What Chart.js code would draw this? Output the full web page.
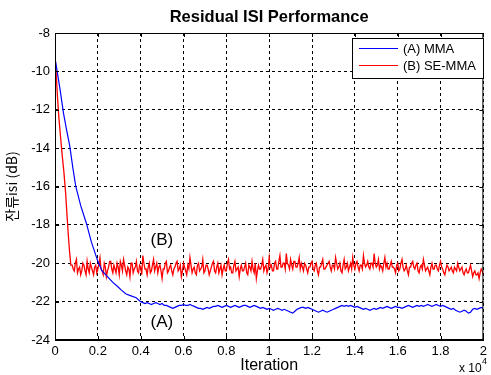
<!DOCTYPE html>
<html>
<head>
<meta charset="utf-8">
<script src="https://cdn.jsdelivr.net/npm/chart.js@4"></script>
<style>
  html, body { margin: 0; padding: 0; background: #fff; }
  #wrap { width: 491px; height: 375px; }
</style>
</head>
<body>
<div id="wrap"><canvas id="my-chart" width="491" height="375"></canvas></div>
<script>
// data

// (A) MMA - transient part, then uniform samples every 100 iterations
const mmaIterHead = [0, 100, 230, 400, 550, 690, 830, 970, 1200, 1460, 1700, 2000, 2200, 2450, 2700, 2910, 3100, 3320, 3550, 3790, 4000];
const mmaValHead = [-9.3, -10.0, -10.9, -12.2, -13.1, -13.9, -15.0, -16.0, -17.0, -17.9, -18.9, -19.9, -20.4, -20.7, -21.0, -21.2, -21.4, -21.6, -21.7, -21.8, -22.0];
const mmaTailStart = 4200;
const mmaTailStep = 100;
const mmaValTail = [
  -22.1, -22.05, -22.1, -22.15, -22.1, -22.05, -22.1, -22.15, -22.1, -22.2,
  -22.2, -22.25, -22.3, -22.35, -22.3, -22.25, -22.2, -22.2, -22.15, -22.2,
  -22.2, -22.15, -22.2, -22.25, -22.3, -22.35, -22.35, -22.4, -22.35, -22.3,
  -22.35, -22.3, -22.25, -22.25, -22.2, -22.25, -22.3, -22.25, -22.2, -22.25,
  -22.3, -22.25, -22.2, -22.25, -22.3, -22.25, -22.2, -22.2, -22.25, -22.3,
  -22.25, -22.2, -22.25, -22.3, -22.35, -22.3, -22.35, -22.4, -22.35, -22.4,
  -22.45, -22.4, -22.35, -22.4, -22.45, -22.4, -22.45, -22.5, -22.55, -22.6,
  -22.5, -22.4, -22.35, -22.3, -22.3, -22.35, -22.3, -22.35, -22.4, -22.45,
  -22.5, -22.55, -22.5, -22.45, -22.5, -22.55, -22.5, -22.45, -22.4, -22.35,
  -22.3, -22.25, -22.2, -22.25, -22.2, -22.25, -22.2, -22.25, -22.3, -22.25,
  -22.3, -22.35, -22.4, -22.35, -22.4, -22.45, -22.4, -22.35, -22.4, -22.35,
  -22.3, -22.35, -22.3, -22.25, -22.3, -22.35, -22.3, -22.25, -22.3, -22.3,
  -22.35, -22.3, -22.25, -22.2, -22.25, -22.3, -22.25, -22.2, -22.25, -22.2,
  -22.25, -22.2, -22.15, -22.2, -22.25, -22.2, -22.15, -22.2, -22.25, -22.2,
  -22.25, -22.3, -22.35, -22.4, -22.35, -22.45, -22.5, -22.55, -22.5, -22.45,
  -22.5, -22.6, -22.55, -22.4, -22.35, -22.4, -22.35, -22.3, -22.35
];

// (B) SE-MMA - transient, then samples at 800, 900, ... plus in-between samples at 850, 950, ...
const seIterHead = [0, 60, 120, 180, 250, 330, 420, 500, 560, 620, 680, 740];
const seValHead = [-9.2, -10.2, -11.4, -12.4, -13.3, -14.3, -15.3, -16.4, -17.5, -18.5, -19.4, -20.1];
const seTailStart = 800;
const seTailStep = 100;
const seValTail = [
  -20.1, -20.4, -19.8, -20.3, -20.6, -20.0, -20.4, -19.9, -20.5, -20.2,
  -20.6, -20.1, -20.3, -19.7, -20.4, -20.0, -20.7, -20.2, -19.9, -20.5,
  -20.3, -20.0, -20.6, -20.1, -19.8, -20.4, -20.2, -20.7, -20.0, -20.3,
  -19.9, -20.5, -20.2, -19.6, -20.3, -20.6, -20.0, -20.4, -19.8, -20.2,
  -20.5, -20.1, -20.8, -20.3, -19.9, -20.4, -20.1, -20.6, -20.2, -19.9,
  -20.3, -20.7, -20.0, -20.4, -20.1, -19.7, -20.5, -20.2, -20.6, -20.0,
  -20.3, -19.8, -20.4, -20.1, -20.6, -20.2, -19.9, -20.5, -20.0, -20.3,
  -20.6, -20.1, -20.4, -19.8, -20.2, -20.5, -19.9, -20.3, -20.7, -20.1,
  -20.4, -20.0, -20.6, -20.2, -19.9, -20.5, -20.8, -20.1, -20.3, -19.8,
  -20.2, -20.5, -19.7, -20.1, -20.4, -19.9, -20.3, -19.6, -20.2, -20.0,
  -19.5, -20.1, -19.8, -20.3, -19.9, -20.2, -19.7, -20.0, -20.4, -20.1,
  -20.5, -20.2, -19.9, -20.4, -20.0, -20.6, -20.2, -19.8, -20.3, -20.1,
  -19.9, -20.4, -20.1, -19.7, -20.3, -20.0, -20.5, -19.8, -20.2, -20.4,
  -20.0, -19.7, -20.3, -19.9, -20.4, -20.1, -19.6, -20.2, -19.9, -20.3,
  -20.0, -19.5, -20.2, -19.8, -20.1, -20.4, -19.7, -20.0, -20.3, -19.9,
  -20.2, -20.5, -20.0, -20.3, -19.8, -20.4, -20.1, -20.6, -20.2, -19.9,
  -20.3, -20.0, -20.5, -20.1, -19.8, -20.4, -20.2, -20.6, -20.0, -20.3,
  -20.1, -20.4, -19.9, -20.3, -20.6, -20.1, -20.4, -20.2, -20.5, -20.3,
  -20.0, -20.4, -20.2, -20.6, -20.3, -20.5, -20.1, -20.7, -20.4, -20.6,
  -20.8, -20.3, -20.6
];
const seValMid = [
  -20.3, -20.0, -20.5, -20.2, -20.4, -20.1, -20.6, -20.3, -20.0, -20.4,
  -20.2, -20.5, -20.0, -20.3, -20.6, -20.2, -20.4, -19.9, -20.3, -20.1,
  -20.5, -20.2, -19.9, -20.4, -20.1, -20.6, -20.3, -20.0, -20.5, -20.2,
  -20.4, -20.1, -20.6, -20.0, -20.3, -20.2, -20.5, -20.1, -20.4, -20.0,
  -20.2, -20.4, -20.3, -20.0, -20.5, -20.2, -20.4, -20.3, -20.0, -20.4,
  -20.1, -20.4, -20.2, -20.6, -20.3, -20.1, -20.3, -20.5, -20.1, -20.4,
  -20.2, -20.5, -20.1, -20.3, -20.4, -20.0, -20.4, -20.2, -20.5, -20.1,
  -20.3, -20.4, -20.0, -20.3, -20.5, -20.1, -20.4, -20.2, -20.3, -20.4,
  -20.2, -20.5, -20.1, -20.4, -20.3, -20.0, -20.4, -20.3, -20.1, -20.4,
  -20.1, -20.3, -20.2, -20.4, -20.0, -20.3, -19.9, -20.2, -20.0, -20.3,
  -20.0, -20.3, -20.1, -19.9, -20.2, -20.0, -20.3, -20.2, -20.0, -20.3,
  -20.2, -20.0, -20.3, -20.1, -20.4, -20.2, -20.0, -20.3, -20.2, -20.0,
  -20.2, -20.1, -20.3, -20.0, -20.2, -20.4, -20.1, -20.3, -20.0, -20.2,
  -20.3, -20.1, -20.0, -20.2, -20.1, -20.3, -20.0, -20.1, -20.2, -20.0,
  -20.2, -20.0, -20.1, -20.3, -20.2, -20.0, -20.2, -20.3, -20.1, -20.2,
  -20.3, -20.1, -20.4, -20.0, -20.2, -20.3, -20.4, -20.2, -20.0, -20.2,
  -20.1, -20.4, -20.2, -20.3, -20.1, -20.3, -20.4, -20.2, -20.3, -20.1,
  -20.3, -20.1, -20.2, -20.5, -20.3, -20.2, -20.3, -20.4, -20.2, -20.4,
  -20.2, -20.3, -20.5, -20.4, -20.5, -20.3, -20.4, -20.5, -20.6, -20.5,
  -20.5, -20.4
];

const seriesLabels = ['(A) MMA', '(B) SE-MMA'];
const seriesColors = ['#0000ff', '#ff0000'];
const yTicks = [-24, -22, -20, -18, -16, -14, -12, -10, -8];
const xTickStep = 2000;

function toPoints(iterHead, valHead, start, step, valTail, valMid) {
  const pts = iterHead.map((it, i) => ({ x: it, y: valHead[i] }));
  valTail.forEach((v, i) => {
    pts.push({ x: start + i * step, y: v });
    if (valMid && i < valMid.length) pts.push({ x: start + i * step + step / 2, y: valMid[i] });
  });
  return pts;
}

const mmaPoints = toPoints(mmaIterHead, mmaValHead, mmaTailStart, mmaTailStep, mmaValTail);
const sePoints = toPoints(seIterHead, seValHead, seTailStart, seTailStep, seValTail, seValMid);

const FONT = '"Liberation Sans", Arial, sans-serif';

// box, inward ticks, legend and text labels
const extras = {
  id: 'extras',
  afterDatasetsDraw(chart) {
    const { ctx, chartArea: a, scales } = chart;
    ctx.save();
    ctx.strokeStyle = '#000';
    ctx.lineWidth = 1;
    ctx.setLineDash([]);
    ctx.strokeRect(a.left + 0.5, a.top + 0.5, a.right - a.left - 1, a.bottom - a.top - 1);

    // small tick marks pointing inward
    const tl = 4;
    ctx.beginPath();
    scales.x.ticks.forEach(t => {
      const px = Math.round(scales.x.getPixelForValue(t.value)) + 0.5;
      ctx.moveTo(px, a.bottom); ctx.lineTo(px, a.bottom - tl);
      ctx.moveTo(px, a.top); ctx.lineTo(px, a.top + tl);
    });
    scales.y.ticks.forEach(t => {
      const py = Math.round(scales.y.getPixelForValue(t.value)) + 0.5;
      ctx.moveTo(a.left, py); ctx.lineTo(a.left + tl, py);
      ctx.moveTo(a.right, py); ctx.lineTo(a.right - tl, py);
    });
    ctx.stroke();

    // legend box
    const lx = 352, ly = 38, lw = 131, lh = 40;
    ctx.fillStyle = '#fff';
    ctx.fillRect(lx, ly, lw, lh);
    ctx.strokeStyle = '#000';
    ctx.strokeRect(lx + 0.5, ly + 0.5, lw, lh);
    ctx.font = '13px ' + FONT;
    ctx.textBaseline = 'middle';
    ctx.textAlign = 'left';
    chart.data.datasets.forEach((ds, i) => {
      const yy = ly + 10 + i * 17;
      ctx.strokeStyle = ds.borderColor;
      ctx.beginPath();
      ctx.moveTo(lx + 7, yy + 0.5);
      ctx.lineTo(lx + 46, yy + 0.5);
      ctx.stroke();
      ctx.fillStyle = '#000';
      ctx.fillText(ds.label, lx + 51, yy + 1);
    });

    // title
    ctx.textAlign = 'center';
    ctx.font = 'bold 16.5px ' + FONT;
    ctx.fillText('Residual ISI Performance', (a.left + a.right) / 2, 17);

    // curve labels
    ctx.font = '17px ' + FONT;
    const xs = scales.x, ys = scales.y;
    ctx.fillText('(B)', xs.getPixelForValue(4990), ys.getPixelForValue(-18.8));
    ctx.fillText('(A)', xs.getPixelForValue(4990), ys.getPixelForValue(-23.1));

    // x 10^4 multiplier
    ctx.textAlign = 'left';
    ctx.font = '12px ' + FONT;
    ctx.fillText('x 10', 459, 369);
    ctx.font = '9px ' + FONT;
    ctx.fillText('4', 482, 362);
    ctx.restore();
  }
};

const ctx = document.getElementById('my-chart').getContext('2d');
const chart = new Chart(ctx, {
  type: 'line',
  data: {
    datasets: [
      {
        label: seriesLabels[0],
        data: mmaPoints,
        borderColor: seriesColors[0],
        borderWidth: 1.2,
        pointRadius: 0,
        tension: 0
      },
      {
        label: seriesLabels[1],
        data: sePoints,
        borderColor: seriesColors[1],
        borderWidth: 1.3,
        pointRadius: 0,
        tension: 0
      }
    ]
  },
  options: {
    responsive: false,
    animation: false,
    events: [],
    layout: { padding: { top: 33, right: 3, left: 0, bottom: 0 } },
    plugins: {
      legend: { display: false },
      title: { display: false },
      tooltip: { enabled: false }
    },
    scales: {
      x: {
        type: 'linear',
        min: 0,
        max: 20000,
        afterFit: s => { s.height = 35; },
        ticks: {
          stepSize: xTickStep,
          padding: 4,
          color: '#000',
          font: { family: FONT, size: 13 },
          maxRotation: 0,
          callback: v => String(Math.round(v / 1000) / 10)
        },
        grid: { color: '#000', lineWidth: 1, drawTicks: false },
        border: { display: true, color: '#000', dash: [3, 3] },
        title: {
          display: true,
          text: 'Iteration',
          color: '#000',
          font: { family: FONT, size: 16 },
          padding: { top: 0, bottom: 0 }
        }
      },
      y: {
        type: 'linear',
        min: yTicks[0],
        max: yTicks[yTicks.length - 1],
        afterFit: s => { s.width = 55; },
        afterBuildTicks: s => { s.ticks = yTicks.map(v => ({ value: v })); },
        ticks: {
          padding: 5,
          color: '#000',
          font: { family: FONT, size: 13 }
        },
        grid: { color: '#000', lineWidth: 1, drawTicks: false },
        border: { display: true, color: '#000', dash: [3, 3] },
        title: {
          display: true,
          text: '잔류isi (dB)',
          color: '#000',
          font: { family: '"Noto Sans CJK KR", ' + FONT, size: 14 },
          padding: { top: 3, bottom: 0 }
        }
      }
    }
  },
  plugins: [extras]
});
</script>
</body>
</html>
